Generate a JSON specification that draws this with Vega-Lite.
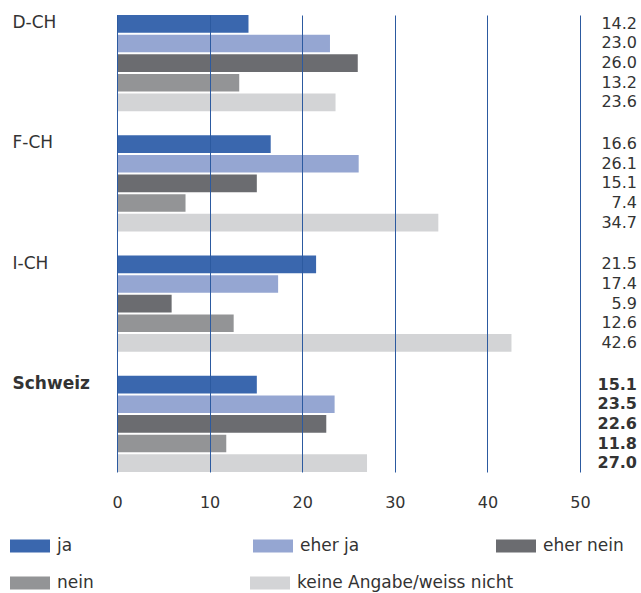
{
  "$schema": "https://vega.github.io/schema/vega-lite/v6.json",
  "width": 463,
  "height": 457,
  "autosize": {"type": "none"},
  "padding": {"left": 117, "top": 15, "right": 61, "bottom": 121},
  "config": {"view": {"stroke": null}, "font": "DejaVu Sans"},
  "data": {"values": [
    {"region": "D-CH", "category": "ja", "value": 14.2},
    {"region": "D-CH", "category": "eher ja", "value": 23.0},
    {"region": "D-CH", "category": "eher nein", "value": 26.0},
    {"region": "D-CH", "category": "nein", "value": 13.2},
    {"region": "D-CH", "category": "keine Angabe/weiss nicht", "value": 23.6},
    {"region": "F-CH", "category": "ja", "value": 16.6},
    {"region": "F-CH", "category": "eher ja", "value": 26.1},
    {"region": "F-CH", "category": "eher nein", "value": 15.1},
    {"region": "F-CH", "category": "nein", "value": 7.4},
    {"region": "F-CH", "category": "keine Angabe/weiss nicht", "value": 34.7},
    {"region": "I-CH", "category": "ja", "value": 21.5},
    {"region": "I-CH", "category": "eher ja", "value": 17.4},
    {"region": "I-CH", "category": "eher nein", "value": 5.9},
    {"region": "I-CH", "category": "nein", "value": 12.6},
    {"region": "I-CH", "category": "keine Angabe/weiss nicht", "value": 42.6},
    {"region": "Schweiz", "category": "ja", "value": 15.1},
    {"region": "Schweiz", "category": "eher ja", "value": 23.5},
    {"region": "Schweiz", "category": "eher nein", "value": 22.6},
    {"region": "Schweiz", "category": "nein", "value": 11.8},
    {"region": "Schweiz", "category": "keine Angabe/weiss nicht", "value": 27.0}
  ]},
  "encoding": {
    "y": {
      "field": "region", "type": "nominal",
      "scale": {"domain": ["D-CH", "F-CH", "I-CH", "Schweiz"], "paddingInner": 0.2, "paddingOuter": 0},
      "axis": {
        "title": null, "domain": false, "ticks": false, "tickSize": 0,
        "labelAlign": "left", "labelBaseline": "top", "labelPadding": 105, "labelOffset": -48,
        "labelFontSize": 17, "labelColor": "#333333",
        "labelFontWeight": {"condition": {"test": "datum.value === 'Schweiz'", "value": "bold"}, "value": "normal"}
      }
    },
    "yOffset": {
      "field": "category", "type": "nominal",
      "scale": {"domain": ["ja", "eher ja", "eher nein", "nein", "keine Angabe/weiss nicht"], "paddingInner": 0.1, "paddingOuter": 0}
    }
  },
  "layer": [
    {
      "transform": [{"filter": {"field": "category", "oneOf": ["ja", "eher ja", "eher nein"]}}],
      "mark": {"type": "bar"},
      "encoding": {
        "x": {
          "field": "value", "type": "quantitative",
          "scale": {"domain": [0, 50], "nice": false},
          "axis": {
            "title": null, "values": [0, 10, 20, 30, 40, 50], "domain": false, "ticks": false,
            "grid": true, "gridColor": "#2c5aa0", "gridWidth": 1, "gridOpacity": 1, "zindex": 1,
            "labelFontSize": 16, "labelColor": "#333333", "labelPadding": 22, "labelFlush": false
          }
        },
        "color": {
          "field": "category", "type": "nominal",
          "scale": {"domain": ["ja", "eher ja", "eher nein"], "range": ["#3a67ae", "#95a6d2", "#6b6c70"]},
          "legend": {
            "orient": "none", "legendX": -107, "legendY": 511, "direction": "horizontal",
            "columns": 3, "gridAlign": "all", "columnPadding": 115,
            "symbolType": "M-1,-0.33H1V0.33H-1Z", "symbolSize": 1600, "symbolStrokeWidth": 0, "symbolOpacity": 1,
            "labelOffset": 7, "labelFontSize": 17, "labelColor": "#333333", "labelLimit": 400,
            "title": null, "padding": 0
          }
        }
      }
    },
    {
      "transform": [{"filter": {"field": "category", "oneOf": ["nein", "keine Angabe/weiss nicht"]}}],
      "mark": {"type": "bar"},
      "encoding": {
        "x": {"field": "value", "type": "quantitative"},
        "color": {
          "field": "category", "type": "nominal",
          "scale": {"domain": ["nein", "keine Angabe/weiss nicht"], "range": ["#939496", "#d3d4d6"]},
          "legend": {
            "orient": "none", "legendX": -107, "legendY": 548, "direction": "horizontal",
            "columns": 2, "gridAlign": "each", "columnPadding": 156,
            "symbolType": "M-1,-0.33H1V0.33H-1Z", "symbolSize": 1600, "symbolStrokeWidth": 0, "symbolOpacity": 1,
            "labelOffset": 7, "labelFontSize": 17, "labelColor": "#333333", "labelLimit": 400,
            "title": null, "padding": 0
          }
        }
      }
    },
    {
      "transform": [{"filter": "datum.region !== 'Schweiz'"}],
      "mark": {"type": "text", "align": "right", "baseline": "middle", "dx": 57, "fontSize": 16, "color": "#333333"},
      "encoding": {
        "x": {"datum": 50},
        "text": {"field": "value", "type": "quantitative", "format": ".1f"}
      }
    },
    {
      "transform": [{"filter": "datum.region === 'Schweiz'"}],
      "mark": {"type": "text", "align": "right", "baseline": "middle", "dx": 57, "fontSize": 16, "fontWeight": "bold", "color": "#333333"},
      "encoding": {
        "x": {"datum": 50},
        "text": {"field": "value", "type": "quantitative", "format": ".1f"}
      }
    }
  ],
  "resolve": {"scale": {"color": "independent"}, "legend": {"color": "independent"}}
}
